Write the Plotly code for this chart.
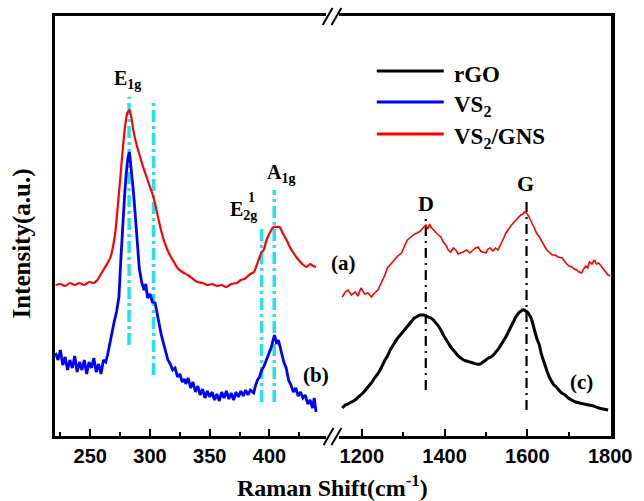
import plotly.graph_objects as go

# ---------------- data (Raman shift in cm-1, intensity in a.u.) ----------------
vs2gns_low_x = [221, 225, 229, 233, 237, 241, 245, 249, 253, 256, 259, 262, 265, 267, 269, 271, 273, 275, 277, 279,
                281, 282.8, 284.5, 286, 288, 290, 292, 294, 296, 298, 300, 302.6, 304.5, 306.5, 309, 311, 313, 315,
                317.5, 320, 323, 327, 331.5, 336, 339.6, 344, 348, 352, 356, 360, 364, 368, 372.8, 376, 379, 381,
                384, 387, 389.4, 391.5, 393.5, 395.2, 397.5, 400.2, 402, 403.5, 406, 408.5, 411, 414.3, 417, 420.1,
                423, 426, 428.4, 431, 434, 436.5, 439]
vs2gns_low_y = [151, 152, 150, 153, 151, 153, 151, 154, 153, 156, 162, 168, 174, 179, 189, 204, 229, 256, 284, 308,
                323, 326, 318, 306, 295, 286, 278, 270, 263, 256, 249, 240, 231, 220, 207, 198, 191, 185,
                179, 174, 168, 164, 161, 157, 154, 153, 151, 152, 150, 151, 149, 152, 153, 156, 157, 159,
                162, 164, 171, 178, 184, 186, 196, 203, 207, 209, 209, 209, 203, 196, 189, 183,
                178, 174, 171, 169, 172, 170, 169]

vs2_x = [221, 223, 225, 227, 229, 231, 233, 235, 237, 239, 241, 243, 245, 247, 249, 251, 253, 255, 257, 259, 261, 263,
         264.5, 266, 268, 270, 272, 274, 275.5, 277, 278.5, 280, 281.5, 282.8, 284, 286, 287.5, 289, 291, 293, 295,
         296.5, 298, 300, 302, 304.3, 306, 308, 309.5, 311, 313, 315, 317, 319, 321, 323, 325, 327, 329, 330, 332,
         334, 336, 338, 340, 342, 344, 346, 348, 350, 352, 354, 356, 358, 360, 362, 364, 366, 368, 370, 372, 374,
         376, 378, 380, 382, 384, 386.8, 388.5, 390, 391.7, 393.5, 395.5, 397.5, 399.5, 401.6, 403, 404.3, 406,
         407.5, 408.5, 410, 412, 414, 416, 418, 420, 422, 424, 426, 428, 430, 432, 434, 436, 437.5, 439]
vs2_y = [83, 76, 86, 71, 79, 66, 76, 68, 80, 64, 74, 66, 76, 62, 74, 68, 78, 64, 72, 62, 76, 74,
         81, 91, 101, 114, 124, 139, 174, 211, 236, 261, 278, 284, 271, 246, 224, 196, 168, 154, 146,
         152, 138, 142, 134, 133, 121, 110, 101, 94, 84, 76, 72, 66, 68, 59, 62, 54, 57, 52, 58,
         48, 54, 44, 50, 41, 47, 38, 45, 39, 44, 36, 42, 35, 44, 38, 45, 37, 43, 36, 44, 39,
         45, 40, 46, 41, 46, 43, 51, 56, 59, 66, 70, 76, 84, 89, 96, 101, 92,
         96, 91, 84, 74, 68, 56, 51, 44, 48, 40, 44, 38, 41, 32, 36, 28, 38, 24]

vs2gns_high_x = [1153, 1160, 1167, 1175, 1184, 1191, 1198, 1207, 1215, 1223, 1231, 1239, 1248, 1255, 1262, 1270, 1279,
                 1287, 1296, 1303, 1310, 1316, 1322, 1328, 1334, 1342, 1350, 1355, 1360, 1364, 1367, 1373, 1379, 1385,
                 1391, 1397, 1403, 1409, 1415, 1421, 1427, 1433, 1438, 1445, 1453, 1461, 1469, 1475, 1481, 1487, 1493,
                 1500, 1505, 1510, 1517, 1523, 1529, 1534, 1538, 1543, 1548, 1554, 1560, 1566, 1572, 1578, 1584, 1589,
                 1593, 1597, 1600, 1604, 1607, 1612, 1617, 1622, 1629, 1635, 1641, 1647, 1653, 1660, 1667, 1674, 1684,
                 1690, 1695, 1701, 1707, 1713, 1719, 1725, 1731, 1736, 1741, 1746, 1750, 1756, 1762, 1767, 1772, 1778,
                 1784, 1790, 1795, 1800]
vs2gns_high_y = [139, 144, 146, 141, 144, 140, 148, 142, 143, 139, 143, 146, 154, 160, 168, 172, 176,
                 180, 183, 190, 196, 198, 200, 202, 203, 205, 209, 211, 207, 212, 209, 206, 204, 201,
                 199, 194, 191, 186, 184, 188, 186, 182, 183, 184, 186, 183, 186, 188, 189, 185, 184,
                 183, 187, 188, 185, 188, 186, 190, 193, 198, 203, 207, 210, 213, 216, 218, 221, 222,
                 224, 223, 222, 219, 216, 212, 208, 203, 199, 194, 190, 186, 184, 181, 181, 179, 178,
                 174, 172, 170, 169, 167, 166, 164, 163, 167, 170, 168, 174, 172, 176, 172, 173, 170,
                 167, 164, 161, 160]

rgo_x = [1153, 1160, 1167, 1175, 1184, 1192, 1200, 1207, 1215, 1223, 1231, 1240, 1248, 1255, 1262, 1270, 1279, 1285,
         1291, 1297, 1303, 1309, 1315, 1321, 1327, 1332, 1336, 1341, 1346, 1350, 1355, 1361, 1367, 1373, 1379, 1385,
         1391, 1397, 1403, 1409, 1415, 1421, 1427, 1433, 1439, 1446, 1453, 1461, 1469, 1477, 1486, 1493, 1500, 1506,
         1512, 1518, 1524, 1530, 1536, 1542, 1548, 1554, 1560, 1566, 1572, 1577, 1581, 1585, 1588, 1592, 1596, 1600,
         1605, 1609, 1612, 1616, 1619, 1624, 1629, 1632, 1636, 1641, 1645, 1649, 1653, 1658, 1664, 1670, 1676, 1683,
         1691, 1699, 1707, 1717, 1726, 1737, 1748, 1760, 1772, 1784, 1795]
rgo_y = [28, 31, 32, 34, 36, 39, 42, 45, 49, 53, 58, 63, 69, 75, 80, 87, 93, 97,
         100, 103, 106, 109, 112, 115, 118, 119, 120, 121, 121, 121, 120, 119, 118, 116, 113, 110,
         106, 101, 97, 93, 89, 86, 83, 80, 78, 76, 75, 74, 73, 72, 72, 74, 76, 78,
         79, 81, 84, 87, 91, 95, 99, 104, 109, 114, 119, 122, 124, 125, 126, 126, 125, 124,
         121, 118, 114, 108, 103, 96, 91, 85, 79, 73, 68, 63, 59, 55, 51, 49, 46, 43,
         41, 38, 36, 34, 33, 32, 31, 30, 28, 27, 26]

# reference lines: position, bottom, top
vs2_mode_pos = [282.5, 303, 393.4, 404]
vs2_mode_lo = [91, 61, 34, 34]
vs2_mode_hi = [339, 333, 208, 246]
rgo_band_pos = [1354.6, 1598]
rgo_band_lo = [46, 26]
rgo_band_hi = [221, 239]

low_ticks = [250, 300, 350, 400]
low_minor = [225, 275, 325, 375, 425]
high_ticks = [1200, 1400, 1600, 1800]
high_minor = [1300, 1500, 1700]

legend_names = ["rGO", "VS<sub>2</sub>", "VS<sub>2</sub>/GNS"]
legend_colors = ["#000000", "#0000ff", "#ff0000"]

# ---------------- figure ----------------
W, H = 644, 501
ML, MR, MT, MB = 55, 24, 16, 65
PW, PH = W - ML - MR, H - MT - MB


def px(x):
    return (x - ML) / PW


def py(y):
    return (H - MB - y) / PH


SERIF = "Liberation Serif"
SANS = "Liberation Sans"
CYAN = "#1fe3f0"

fig = go.Figure()

for i, (p, lo, hi) in enumerate(zip(vs2_mode_pos, vs2_mode_lo, vs2_mode_hi)):
    fig.add_trace(go.Scatter(x=[p, p], y=[lo, hi], mode="lines", xaxis="x", yaxis="y",
                             line=dict(color=CYAN, width=3.5, dash="12px,4px,3px,4px"),
                             showlegend=False, hoverinfo="skip"))
for p, lo, hi in zip(rgo_band_pos, rgo_band_lo, rgo_band_hi):
    fig.add_trace(go.Scatter(x=[p, p], y=[lo, hi], mode="lines", xaxis="x2", yaxis="y2",
                             line=dict(color="black", width=2.2, dash="10px,5px,2px,5px"),
                             showlegend=False, hoverinfo="skip"))

fig.add_trace(go.Scatter(x=vs2gns_low_x, y=vs2gns_low_y, mode="lines", xaxis="x", yaxis="y",
                         line=dict(color="#ff0000", width=2.2, shape="spline", smoothing=0.6), showlegend=False))
fig.add_trace(go.Scatter(x=vs2_x, y=vs2_y, mode="lines", xaxis="x", yaxis="y",
                         line=dict(color="#0000ff", width=2.8), showlegend=False))
fig.add_trace(go.Scatter(x=vs2gns_high_x, y=vs2gns_high_y, mode="lines", xaxis="x2", yaxis="y2",
                         line=dict(color="#ff0000", width=1.6), showlegend=False))
fig.add_trace(go.Scatter(x=rgo_x, y=rgo_y, mode="lines", xaxis="x2", yaxis="y2",
                         line=dict(color="#000000", width=3, shape="spline", smoothing=0.8), showlegend=False))

common_x = dict(showline=True, linewidth=3, linecolor="black", mirror=True, showgrid=False, zeroline=False,
                ticks="inside", ticklen=7, tickwidth=2, tickcolor="black",
                tickfont=dict(family=SANS, size=20, color="black", weight="bold"))
fig.update_layout(
    width=W, height=H, margin=dict(l=ML, r=MR, t=MT, b=MB),
    paper_bgcolor="white", plot_bgcolor="white",
    xaxis=dict(domain=[0, px(330)], range=[220.5, 447], tickvals=low_ticks, anchor="y",
               minor=dict(tickvals=low_minor, ticks="inside", ticklen=4, tickwidth=2, tickcolor="black"),
               **common_x),
    xaxis2=dict(domain=[px(344), 1], range=[1146, 1802], tickvals=high_ticks, anchor="y2",
                minor=dict(tickvals=high_minor, ticks="inside", ticklen=4, tickwidth=2, tickcolor="black"),
                **common_x),
    yaxis=dict(domain=[0, 1], range=[0, 420], anchor="x", showline=True, linewidth=3, linecolor="black",
               showticklabels=False, ticks="", showgrid=False, zeroline=False),
    yaxis2=dict(domain=[0, 1], range=[0, 420], anchor="x2", side="right", showline=True, linewidth=3.5,
                linecolor="black", showticklabels=False, ticks="", showgrid=False, zeroline=False),
    showlegend=False,
)

shapes = []
# axis break marks
for (x0, y0, x1, y1) in [(327, 25, 337, 8), (336, 25, 346, 8), (328, 445, 338, 428), (336, 445, 346, 428)]:
    shapes.append(dict(type="line", xref="paper", yref="paper", x0=px(x0), y0=py(y0), x1=px(x1), y1=py(y1),
                       line=dict(color="black", width=2)))
# legend lines
leg_y = [71, 102, 134]
for yy, c in zip(leg_y, legend_colors):
    shapes.append(dict(type="line", xref="paper", yref="paper", x0=px(382), x1=px(450), y0=py(yy), y1=py(yy),
                       line=dict(color=c, width=3)))
fig.update_layout(shapes=shapes)

ann = []


def text(t, x, y, size, xanchor="center", yanchor="middle", family=SERIF, angle=0):
    ann.append(dict(text=t, x=px(x), y=py(y), xref="paper", yref="paper", showarrow=False,
                    xanchor=xanchor, yanchor=yanchor, textangle=angle,
                    font=dict(family=family, size=size, color="black")))


for yy, name in zip(leg_y, legend_names):
    text("<b>%s</b>" % name, 458, yy + 4, 23, xanchor="left")

text("<b>E<sub>1g</sub></b>", 129, 79, 20)
text("<b>A<sub>1g</sub></b>", 285, 173, 20)
text("<b>E<sub>2g</sub></b>", 231, 210, 20, xanchor="left")
text("<b>1</b>", 255, 197, 14)
text("<b>D</b>", 432, 204, 22)
text("<b>G</b>", 533, 183, 22)
text("<b>(a)</b>", 348, 263, 21)
text("<b>(b)</b>", 320, 375, 21)
text("<b>(c)</b>", 590, 382, 21)
text("<b>Raman Shift(cm<sup>-1</sup>)</b>", 337, 486, 24)
text("<b>Intensity(a.u.)</b>", 21, 244, 25, angle=-90)

fig.update_layout(annotations=ann)

fig.write_html("out.html")
